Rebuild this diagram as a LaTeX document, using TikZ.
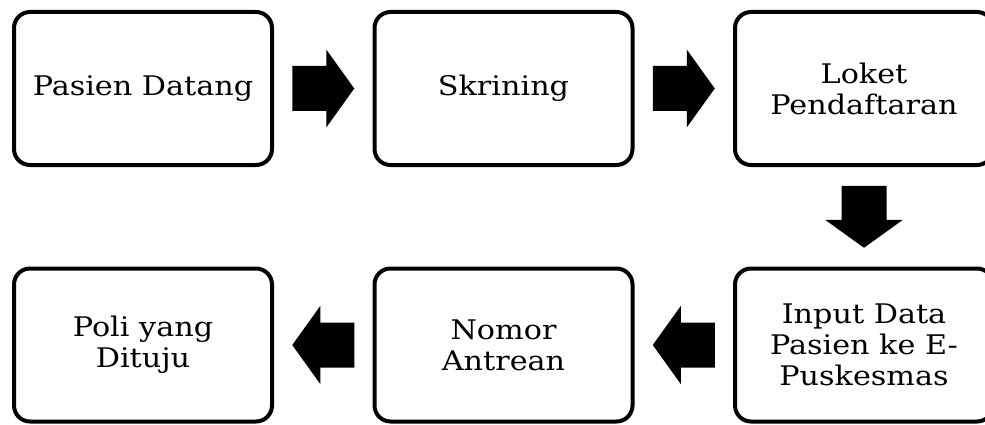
\documentclass[tikz,border=0pt]{standalone}
\usepackage{fontspec}
\setmainfont[FakeStretch=1.12]{DejaVu Serif}
\usetikzlibrary{calc}
\tikzset{
  x=1pt,y=1pt,
  stepbox/.style={draw=black, line width=4pt, rounded corners=16pt, minimum width=258pt, minimum height=153pt, align=center, font=\fontsize{27}{31}\selectfont, inner sep=0pt},
  fat arrow/.pic={\fill[black] (-31,-22.5) -- (3,-22.5) -- (3,-39) -- (31,0) -- (3,39) -- (3,22.5) -- (-31,22.5) -- cycle;}
}
\begin{document}
\begin{tikzpicture}
\useasboundingbox (0,0) rectangle (985,-425);
\node[stepbox] (b1) at (143,-88.5) {Pasien Datang};
\node[stepbox] (b2) at (503.5,-88.5) {Skrining};
\node[stepbox] (b3) at (864,-88.5) {Loket\\Pendaftaran};
\node[stepbox] (b4) at (864,-345) {Input Data\\Pasien ke E-\\Puskesmas};
\node[stepbox] (b5) at (503.5,-345) {Nomor\\Antrean};
\node[stepbox] (b6) at (143,-345) {Poli yang\\Dituju};
\pic at ($(b1.east)!0.5!(b2.west)$) {fat arrow};
\pic at ($(b2.east)!0.5!(b3.west)$) {fat arrow};
\pic[rotate=-90] at ($(b3.south)!0.5!(b4.north)$) {fat arrow};
\pic[rotate=180] at ($(b4.west)!0.5!(b5.east)$) {fat arrow};
\pic[rotate=180] at ($(b5.west)!0.5!(b6.east)$) {fat arrow};
\end{tikzpicture}
\end{document}
